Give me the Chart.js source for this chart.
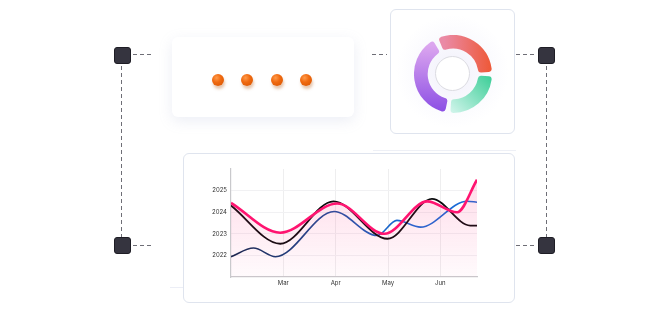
<!DOCTYPE html>
<html>
<head>
<meta charset="utf-8">
<script src="https://cdn.jsdelivr.net/npm/chart.js@4.4.1/dist/chart.umd.min.js"></script>
<style>
  html, body { margin: 0; padding: 0; background: #fff; }
  body { width: 670px; height: 309px; position: relative; overflow: hidden; font-family: Inter, "Noto Sans", sans-serif; }
  .abs { position: absolute; }
  .card { position: absolute; background: #fff; border-radius: 6px; }
  .sq { position: absolute; width: 17px; height: 17px; background: #35343f; border: 1px solid #1e1d25; border-radius: 3px; box-sizing: border-box; }
  .dh { position: absolute; height: 1.4px; background: repeating-linear-gradient(90deg, #6e6e76 0 4px, transparent 4px 7px); }
  .dv { position: absolute; width: 1.4px; background: repeating-linear-gradient(180deg, #6e6e76 0 4px, transparent 4px 7px); }
  .dot { position: absolute; width: 12px; height: 12px; border-radius: 50%;
    background: radial-gradient(circle at 38% 32%, #ff9a4a 0%, #f06a10 40%, #d45200 100%);
    box-shadow: 1px 3px 3px rgba(180, 90, 20, 0.35); }
</style>
</head>
<body>
  <!-- connectors -->
  <div class="dv" style="left:121px; top:66px; height:171px;"></div>
  <div class="dh" style="left:133px; top:54px; width:21px;"></div>
  <div class="dh" style="left:133px; top:245px; width:21px;"></div>
  <div class="dv" style="left:546px; top:66px; height:171px;"></div>
  <div class="dh" style="left:516px; top:54px; width:21px;"></div>
  <div class="dh" style="left:516px; top:245px; width:21px;"></div>
  <div class="dh" style="left:372px; top:54px; width:15px;"></div>
  <div class="sq" style="left:114px; top:47px;"></div>
  <div class="sq" style="left:114px; top:237px;"></div>
  <div class="sq" style="left:538px; top:47px;"></div>
  <div class="sq" style="left:538px; top:237px;"></div>

  <!-- dots card -->
  <div class="card" style="left:172px; top:37px; width:182px; height:80px; box-shadow: 0 4px 14px rgba(150,160,200,0.18);"></div>
  <div class="dot" style="left:212px; top:74px;"></div>
  <div class="dot" style="left:241px; top:74px;"></div>
  <div class="dot" style="left:271px; top:74px;"></div>
  <div class="dot" style="left:300px; top:74px;"></div>

  <!-- donut card -->
  <div class="card" style="left:390px; top:9px; width:125px; height:125px; border:1px solid #dfe4ee; box-sizing:border-box; background: radial-gradient(circle at 50% 50%, #f1f0fb 0%, #fbfbfe 45%, #fff 65%);"></div>
  <div class="abs" style="left:435px; top:56px; width:35px; height:35px; border-radius:50%; border:1px solid #dcdce2; box-sizing:border-box; background:#fff;"></div>
  <div class="abs" style="left:414px; top:35px; width:78px; height:78px;"><canvas id="donut" width="78" height="78"></canvas></div>

  <!-- line chart card -->
  <div class="abs" style="left:373px; top:150px; width:143px; height:4px; border-top:1px solid #eef0f6;"></div>
  <div class="abs" style="left:170px; top:287px; width:14px; height:1px; background:#eceef6;"></div>
  <div class="card" style="left:183px; top:153px; width:332px; height:150px; border:1px solid #dfe4ee; box-sizing:border-box;"></div>
  <div class="abs" style="left:200px; top:160px; width:285px; height:135px;"><canvas id="chart" width="285" height="135"></canvas></div>

<script>
// x positions are months counted from Feb 1
const monthTicks = [1, 2, 3, 4];
const monthLabels = ['Mar', 'Apr', 'May', 'Jun'];
const yearTicks = [2022, 2023, 2024, 2025];

const pinkX = [0, 0.94, 2.03, 2.93, 3.75, 4.32, 4.70];
const pinkY = [2024.43, 2023.05, 2024.4, 2023.0, 2024.5, 2024.0, 2025.5];

const blackX = [0, 0.94, 1.96, 2.99, 3.84, 4.57, 4.70];
const blackY = [2024.31, 2022.54, 2024.5, 2022.77, 2024.62, 2023.38, 2023.38];

const blueX = [0, 0.43, 0.85, 1.97, 2.79, 3.17, 3.62, 4.51, 4.70];
const blueY = [2021.94, 2022.34, 2021.94, 2024.03, 2022.92, 2023.62, 2023.31, 2024.51, 2024.46];

const donutLabels = ['Red', 'Green', 'Purple'];
const donutValues = [111, 92, 140];

const toPoints = (xs, ys) => xs.map((x, i) => ({ x: x, y: ys[i] }));

const pinkFill = (ctx) => {
  const area = ctx.chart.chartArea;
  if (!area) return 'rgba(255,20,110,0.08)';
  const g = ctx.chart.ctx.createLinearGradient(0, area.top, 0, area.bottom);
  g.addColorStop(0, 'rgba(255,20,110,0.16)');
  g.addColorStop(1, 'rgba(255,20,110,0.02)');
  return g;
};

const blueStroke = (ctx) => {
  const area = ctx.chart.chartArea;
  if (!area) return '#1a64cc';
  const g = ctx.chart.ctx.createLinearGradient(area.left, 0, area.right, 0);
  g.addColorStop(0, '#13284d');
  g.addColorStop(0.4, '#1b4f9c');
  g.addColorStop(0.7, '#1a6bd6');
  g.addColorStop(1, '#1a6bd6');
  return g;
};

new Chart(document.getElementById('chart'), {
  type: 'line',
  data: {
    datasets: [{
      data: toPoints(pinkX, pinkY),
      borderColor: '#ff1470',
      borderWidth: 2.6,
      backgroundColor: pinkFill,
      fill: 'start',
      cubicInterpolationMode: 'monotone',
      pointRadius: 0
    }, {
      data: toPoints(blackX, blackY),
      borderColor: '#0b0b0d',
      borderWidth: 1.8,
      fill: false,
      cubicInterpolationMode: 'monotone',
      pointRadius: 0
    }, {
      data: toPoints(blueX, blueY),
      borderColor: blueStroke,
      borderWidth: 1.6,
      fill: false,
      cubicInterpolationMode: 'monotone',
      pointRadius: 0
    }]
  },
  options: {
    responsive: false,
    animation: false,
    layout: { padding: { top: 9, right: 8, bottom: 0, left: 0 } },
    plugins: { legend: { display: false }, tooltip: { enabled: false } },
    scales: {
      x: {
        type: 'linear',
        min: 0,
        max: 4.7,
        afterBuildTicks: (s) => { s.ticks = monthTicks.map(v => ({ value: v })); },
        afterFit: (s) => { s.height = 18; },
        ticks: {
          callback: (v) => monthLabels[monthTicks.indexOf(v)] || '',
          font: { size: 6, family: 'Inter' },
          color: '#333',
          padding: 3,
          maxRotation: 0
        },
        grid: { color: '#eeeeef', drawTicks: false },
        border: { color: '#c9c9cc', width: 1.2 }
      },
      y: {
        min: 2021,
        max: 2026,
        afterBuildTicks: (s) => { s.ticks = yearTicks.map(v => ({ value: v })); },
        afterFit: (s) => { s.width = 31; },
        ticks: {
          callback: (v) => String(v),
          font: { size: 6, family: 'Inter' },
          color: '#333',
          padding: 4
        },
        grid: { color: '#f1f1f3', drawTicks: false },
        border: { color: '#c9c9cc', width: 1.2 }
      }
    }
  }
});

const donutColors = [
  ['#ea8aa6', '#ee5836', 'h'],
  ['#2fcb90', '#d6f6ee', 'v'],
  ['#8a4de4', '#dca6ef', 'v2']
];

new Chart(document.getElementById('donut'), {
  type: 'doughnut',
  data: {
    labels: donutLabels,
    datasets: [{
      data: donutValues,
      backgroundColor: (ctx) => {
        const area = ctx.chart.chartArea;
        const c = donutColors[ctx.dataIndex];
        if (!area) return c[0];
        let g;
        if (c[2] === 'h') g = ctx.chart.ctx.createLinearGradient(area.left + 30, 0, area.right, 0);
        else if (c[2] === 'v') g = ctx.chart.ctx.createLinearGradient(area.right, area.top + 35, area.left + 35, area.bottom);
        else g = ctx.chart.ctx.createLinearGradient(0, area.bottom, 0, area.top + 10);
        g.addColorStop(0, c[0]);
        g.addColorStop(1, c[1]);
        return g;
      },
      borderWidth: 0,
      spacing: 4,
      borderRadius: 3
    }]
  },
  options: {
    responsive: false,
    animation: false,
    cutout: '63%',
    rotation: -26,
    plugins: { legend: { display: false }, tooltip: { enabled: false } }
  }
});
</script>
</body>
</html>
